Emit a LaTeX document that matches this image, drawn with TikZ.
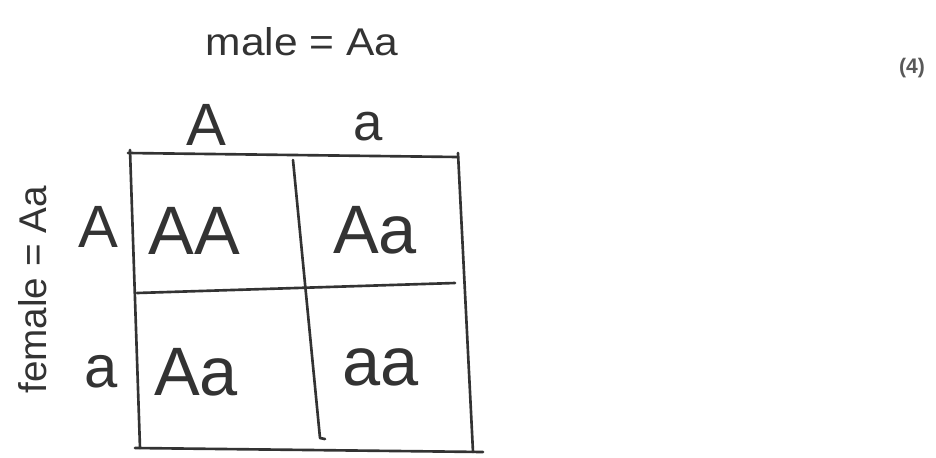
\documentclass[tikz,border=0pt]{standalone}
\usepackage{fontspec}
\setmainfont{Liberation Sans}

\begin{document}
\begin{tikzpicture}[x=0.02cm, y=-0.02cm,
  every node/.style={inner sep=0pt, text=black!80},
  pen/.style={line width=1.5pt, draw=black!80, line cap=round, line join=round},
  cell/.style={anchor=base, font=\fontsize{39}{45}\selectfont},
  head/.style={anchor=base, font=\fontsize{34}{40}\selectfont},
  note/.style={font=\fontsize{22}{26}\selectfont}]
  \useasboundingbox (0,0) rectangle (936,457);
  % parents
  \node[note, xscale=1.1] (male) at (302,42) {male = Aa};
  \node[note, rotate=90] (female) at (33,290) {female = Aa};
  \node[font=\bfseries\fontsize{12}{14}\selectfont, text=black!65] (marks) at (912,68) {(4)};
  % gametes
  \node[head] (colA) at (206,145) {A};
  \node[head, font=\fontsize{30}{36}\selectfont] (cola) at (368,140) {a};
  \node[head] (rowA) at (98,247) {A};
  \node[head] (rowa) at (101,387) {a};
  % grid
  \draw[pen] (128,153) -- (458,157);
  \draw[pen] (130,150) -- (140,448);
  \draw[pen] (458,153) -- (473,452);
  \draw[pen] (135,448) -- (483,452);
  \draw[pen] (293,160) -- (320,438) -- (325,439);
  \draw[pen] (137,293) -- (455,283);
  % offspring
  \node[cell] (AA) at (194,254) {AA};
  \node[cell] (Aa1) at (375,253) {Aa};
  \node[cell] (Aa2) at (196,395) {Aa};
  \node[cell] (aa) at (381,385) {aa};
\end{tikzpicture}
\end{document}
